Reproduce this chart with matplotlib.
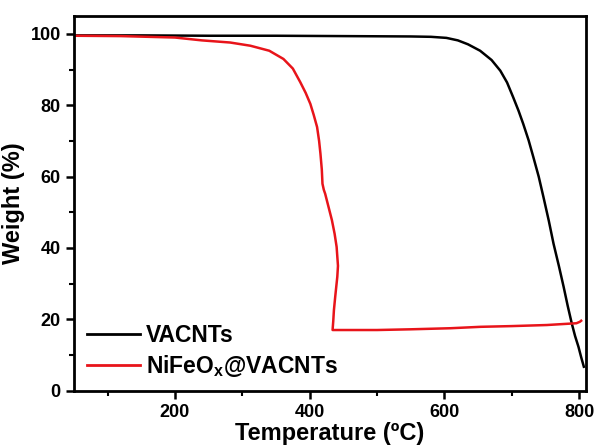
import matplotlib
matplotlib.use("Agg")
import matplotlib.pyplot as plt
from matplotlib.ticker import MultipleLocator

plt.rcParams['font.family'] = ['Liberation Sans', 'DejaVu Sans']
plt.rcParams['font.weight'] = 'bold'
plt.rcParams['mathtext.default'] = 'regular'

# VACNTs
t_vac = [50, 150, 250, 350, 450, 550, 580, 603, 620, 635, 653, 670, 683, 693, 702, 710, 717, 725, 732, 740, 747, 755, 762, 770, 777, 783, 789, 794, 799, 803, 807]
w_vac = [99.6, 99.6, 99.5, 99.5, 99.4, 99.3, 99.2, 98.9, 98.2, 97.1, 95.3, 92.7, 89.7, 86.4, 82.3, 78.5, 74.8, 70.2, 65.5, 60.0, 54.3, 47.6, 41.2, 34.9, 29.1, 23.8, 18.9, 15.3, 12.3, 9.4, 6.7]

# NiFeOx@VACNTs
t_ni = [50, 120, 200, 240, 282, 312, 340, 361, 375, 386, 394, 401, 406, 411, 414, 416, 418, 419, 421, 423, 428, 433, 437, 440, 442, 441, 438, 436, 435, 434, 450, 500, 550, 609, 654, 700, 752, 796, 801, 803]
w_ni = [99.5, 99.4, 99.0, 98.2, 97.6, 96.7, 95.3, 93.0, 90.3, 86.5, 83.5, 80.4, 77.3, 73.9, 70.0, 66.4, 62.0, 58.0, 56.3, 55.2, 51.5, 47.8, 44.0, 40.3, 35.0, 31.9, 26.5, 22.6, 19.5, 17.0, 17.0, 17.0, 17.2, 17.5, 17.9, 18.1, 18.4, 18.9, 19.3, 19.6]

labels = ['VACNTs', r'NiFeO$_\mathregular{x}$@VACNTs']

fig = plt.figure(figsize=(5.96, 4.48), dpi=100)
ax = fig.add_axes([0.124, 0.128, 0.859, 0.836])

ax.plot(t_vac, w_vac, color='black', lw=1.8, label=labels[0])
ax.plot(t_ni, w_ni, color='#e8141a', lw=1.8, label=labels[1])

ax.set_xlim(50, 810)
ax.set_ylim(0, 105)
ax.xaxis.set_major_locator(MultipleLocator(200))
ax.xaxis.set_minor_locator(MultipleLocator(100))
ax.yaxis.set_major_locator(MultipleLocator(20))
ax.yaxis.set_minor_locator(MultipleLocator(10))
ax.tick_params(which='major', direction='out', length=6, width=1.8, labelsize=13)
ax.tick_params(which='minor', direction='out', length=3.5, width=1.5)
for s in ax.spines.values():
    s.set_linewidth(2)

ax.set_xlabel('Temperature (ºC)', fontsize=17, fontweight='bold', labelpad=1)
ax.set_ylabel('Weight (%)', fontsize=17, fontweight='bold', labelpad=4)

leg = ax.legend(loc='lower left', frameon=False, fontsize=16.5, handlelength=2.3,
                handletextpad=0.25, labelspacing=0.25, borderaxespad=0.3,
                bbox_to_anchor=(-0.005, -0.012))
for line in leg.get_lines():
    line.set_linewidth(2)

fig.savefig('out.png', dpi=100)
